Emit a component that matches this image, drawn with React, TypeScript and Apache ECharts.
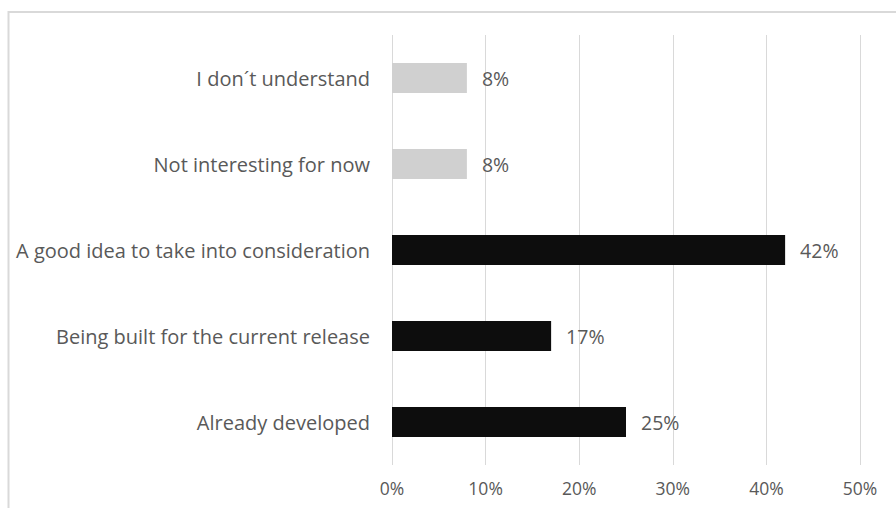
import React, { useEffect, useRef } from "react";
import * as echarts from "echarts";

const categories = [
  "Already developed",
  "Being built for the current release",
  "A good idea to take into consideration",
  "Not interesting for now",
  "I don´t understand",
];
const values = [25, 17, 42, 8, 8];
const barColors = ["#0d0d0d", "#0d0d0d", "#0d0d0d", "#d0d0d0", "#d0d0d0"];
const xTicks = [0, 10, 20, 30, 40, 50];

export default function App() {
  const ref = useRef<HTMLDivElement>(null);
  useEffect(() => {
    if (!ref.current) return;
    const chart = echarts.init(ref.current, null, { renderer: "svg" });
    const font = "'Open Sans', sans-serif";
    chart.setOption({
      animation: false,
      backgroundColor: "#ffffff",
      graphic: [
        {
          type: "rect",
          shape: { x: 8.5, y: 12, width: 920, height: 540 },
          style: { fill: "none", stroke: "#d9d9d9", lineWidth: 2 },
          silent: true,
        },
      ],
      grid: { left: 392, right: 36, top: 35, bottom: 43 },
      xAxis: {
        type: "value",
        min: xTicks[0],
        max: xTicks[xTicks.length - 1],
        interval: 10,
        axisLine: { show: false },
        axisTick: { show: false },
        splitLine: { show: true, lineStyle: { color: "#d9d9d9", width: 1 } },
        axisLabel: {
          formatter: (v: number) => v + "%",
          color: "#595959",
          fontSize: 17.5,
          fontFamily: font,
          margin: 14,
        },
      },
      yAxis: {
        type: "category",
        data: categories,
        axisLine: { show: false },
        axisTick: { show: false },
        axisLabel: {
          color: "#595959",
          fontSize: 20,
          fontFamily: font,
          margin: 22,
        },
      },
      series: [
        {
          type: "bar",
          data: values.map((v, i) => ({ value: v, itemStyle: { color: barColors[i] } })),
          barWidth: 30,
          label: {
            show: true,
            position: "right",
            distance: 15,
            formatter: (p: any) => p.value + "%",
            color: "#595959",
            fontSize: 19.5,
            fontFamily: font,
          },
        },
      ],
    });
    return () => chart.dispose();
  }, []);
  return (
    <div
      ref={ref}
      style={{ position: "fixed", left: 0, top: 0, width: 896, height: 508 }}
    />
  );
}
